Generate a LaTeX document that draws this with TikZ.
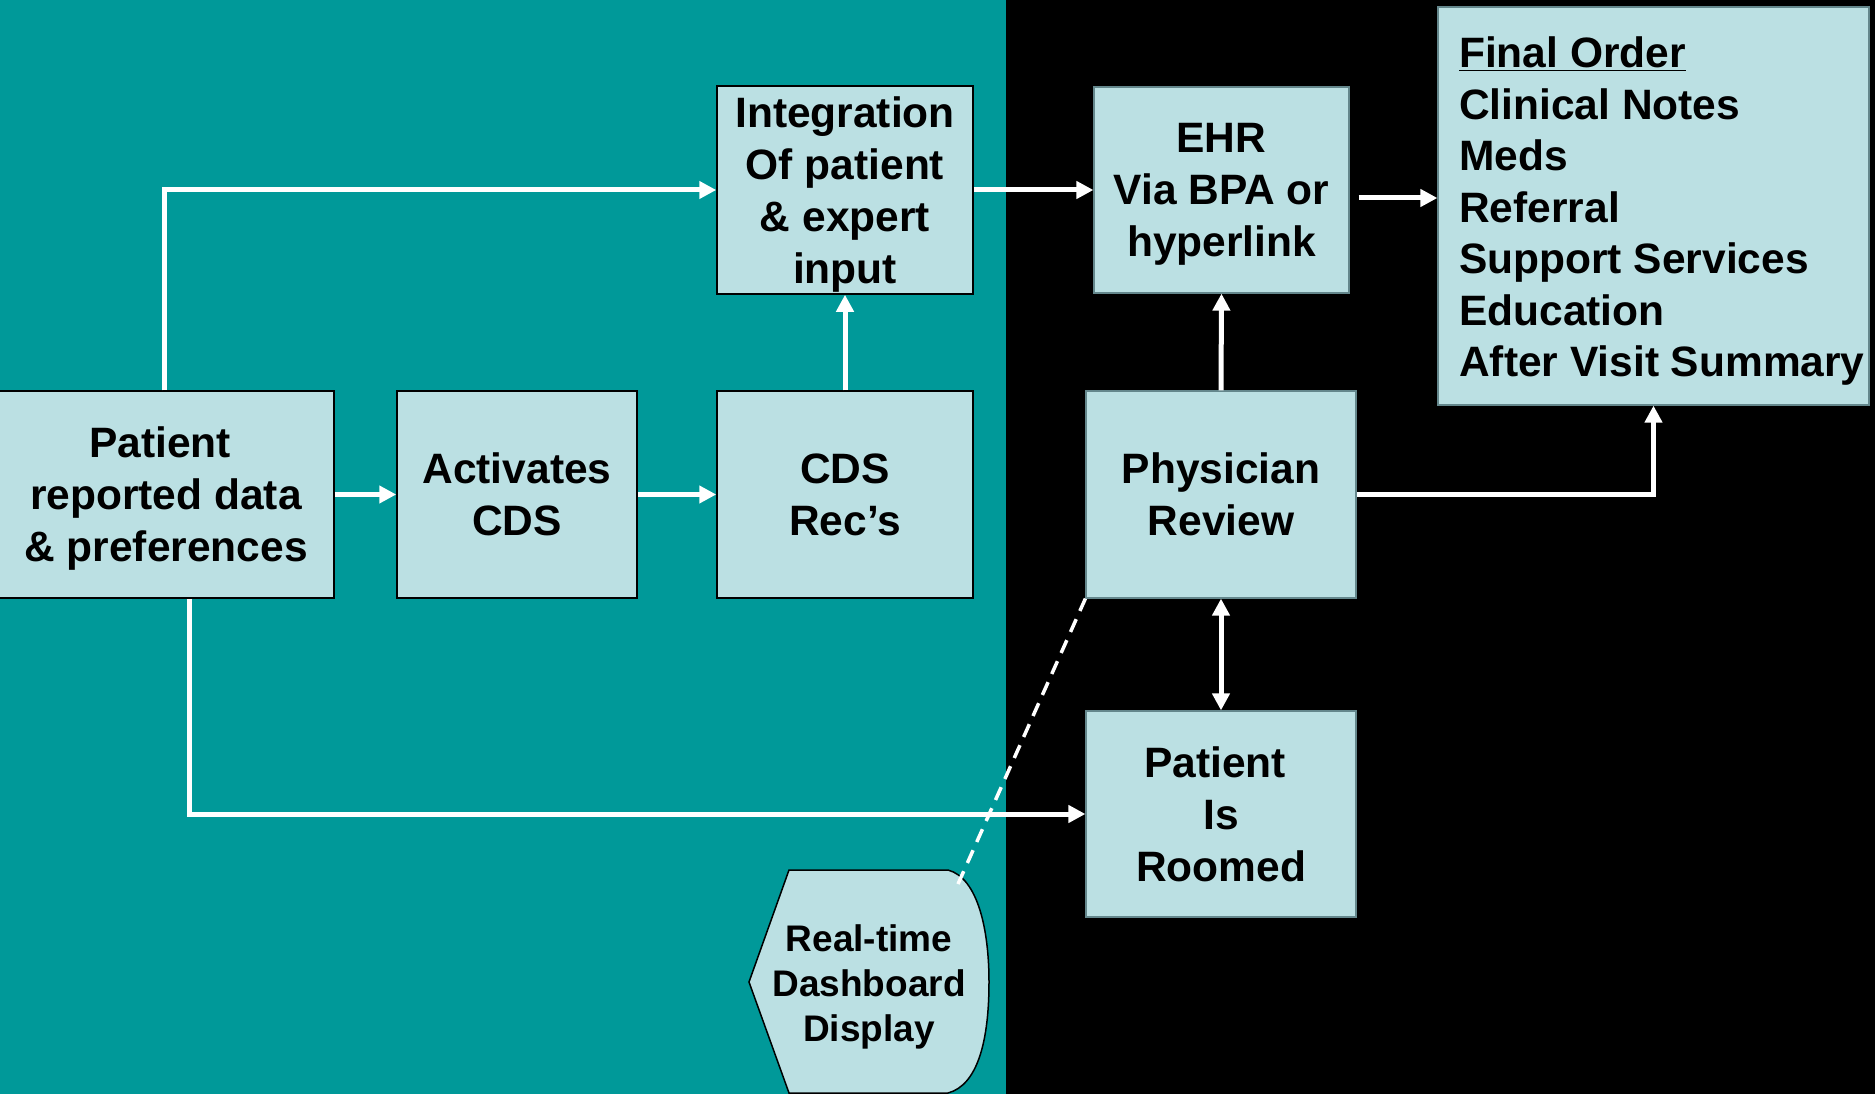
\documentclass[tikz,border=0pt]{standalone}
\usepackage{fontspec}
\setmainfont{Liberation Sans}
\usetikzlibrary{arrows.meta,calc}
\definecolor{tealbg}{RGB}{0,153,153}
\definecolor{boxfill}{RGB}{187,224,227}
\definecolor{edgegray}{RGB}{100,135,140}

\begin{document}
\begin{tikzpicture}[x=1pt,y=-1pt,
  box/.style={draw=black, line width=1.5pt, fill=boxfill, align=center,
    inner sep=0pt, text depth=0pt, font=\bfseries\fontsize{42.5}{52}\selectfont},
  darkbox/.style={box, draw=edgegray, line width=1.2pt},
  arr/.style={draw=white, line width=5pt, -{Triangle[length=17pt,width=17pt]}},
  darr/.style={draw=white, line width=5pt,
    {Triangle[length=17pt,width=17pt]}-{Triangle[length=17pt,width=17pt]}},
  link/.style={draw=white, line width=3.5pt, dash pattern=on 14pt off 9pt}]

% backgrounds
\useasboundingbox (0,0) rectangle (1875,1094);
\fill[tealbg] (0,0) rectangle (1006,1094);
\fill[black] (1006,0) rectangle (1875,1094);

% boxes
\node[box, minimum width=336pt, minimum height=207pt] (patient) at (166,494.5)
  {Patient\hspace*{0.278em}\\reported data\\\& preferences};
\node[box, minimum width=240pt, minimum height=207pt] (activ) at (517,494.5)
  {Activates\\CDS};
\node[box, minimum width=256pt, minimum height=207pt] (cds) at (845,494.5)
  {CDS\\Rec’s};
\node[box, minimum width=256pt, minimum height=208pt] (integ) at (845,190)
  {Integration\\Of patient\\\& expert\\input};
\node[darkbox, minimum width=255pt, minimum height=206pt] (ehr) at (1221.5,190)
  {EHR\\Via BPA or\\hyperlink};
\node[darkbox, minimum width=270pt, minimum height=207pt] (phys) at (1221,494.5)
  {Physician\\Review};
\node[darkbox, minimum width=270pt, minimum height=206pt] (roomed) at (1221,814)
  {Patient\hspace*{0.278em}\\Is\hspace*{0.278em}\\Roomed};
\node[darkbox, minimum width=431pt, minimum height=398pt] (final) at (1653.5,206) {};
\node[anchor=north west, align=left, inner sep=0pt,
  font=\bfseries\fontsize{42.5}{51.5}\selectfont] (finaltext) at (1459,37)
  {\underline{Final Order}\\Clinical Notes\\Meds\\Referral\\Support Services\\Education\\After Visit Summary};

% display shape
\draw[line width=1.5pt, fill=boxfill] (789,870) -- (948,870)
  .. controls (978,878) and (989,930) .. (989,982)
  .. controls (989,1040) and (978,1085) .. (948,1093)
  -- (789,1093) -- (749,982) -- cycle;
\node[align=center, inner sep=0pt, text depth=0pt,
  font=\bfseries\fontsize{37}{45}\selectfont]
  (dash) at (869,983) {Real-time\\Dashboard\\Display};
\coordinate (dtip) at (958,884);

% connectors
\draw[arr] (patient.east) -- (activ.west);
\draw[arr] (activ.east) -- (cds.west);
\draw[arr] (cds.north) -- (integ.south);
\draw[arr] ([xshift=-2pt]patient.north) |- (integ.west);
\draw[arr] (integ.east) -- (ehr.west);
\draw[arr] ($(ehr.east)+(9,8)$) -- ($(final.west)+(0,-8)$);
\draw[arr] (phys.north) -- (ehr.south);
\draw[arr] (phys.east) -| (final.south);
\draw[darr] (phys.south) -- (roomed.north);
\draw[arr] ([xshift=23pt]patient.south) |- (roomed.west);
\draw[link] (dtip) -- (phys.south west);
\end{tikzpicture}
\end{document}
